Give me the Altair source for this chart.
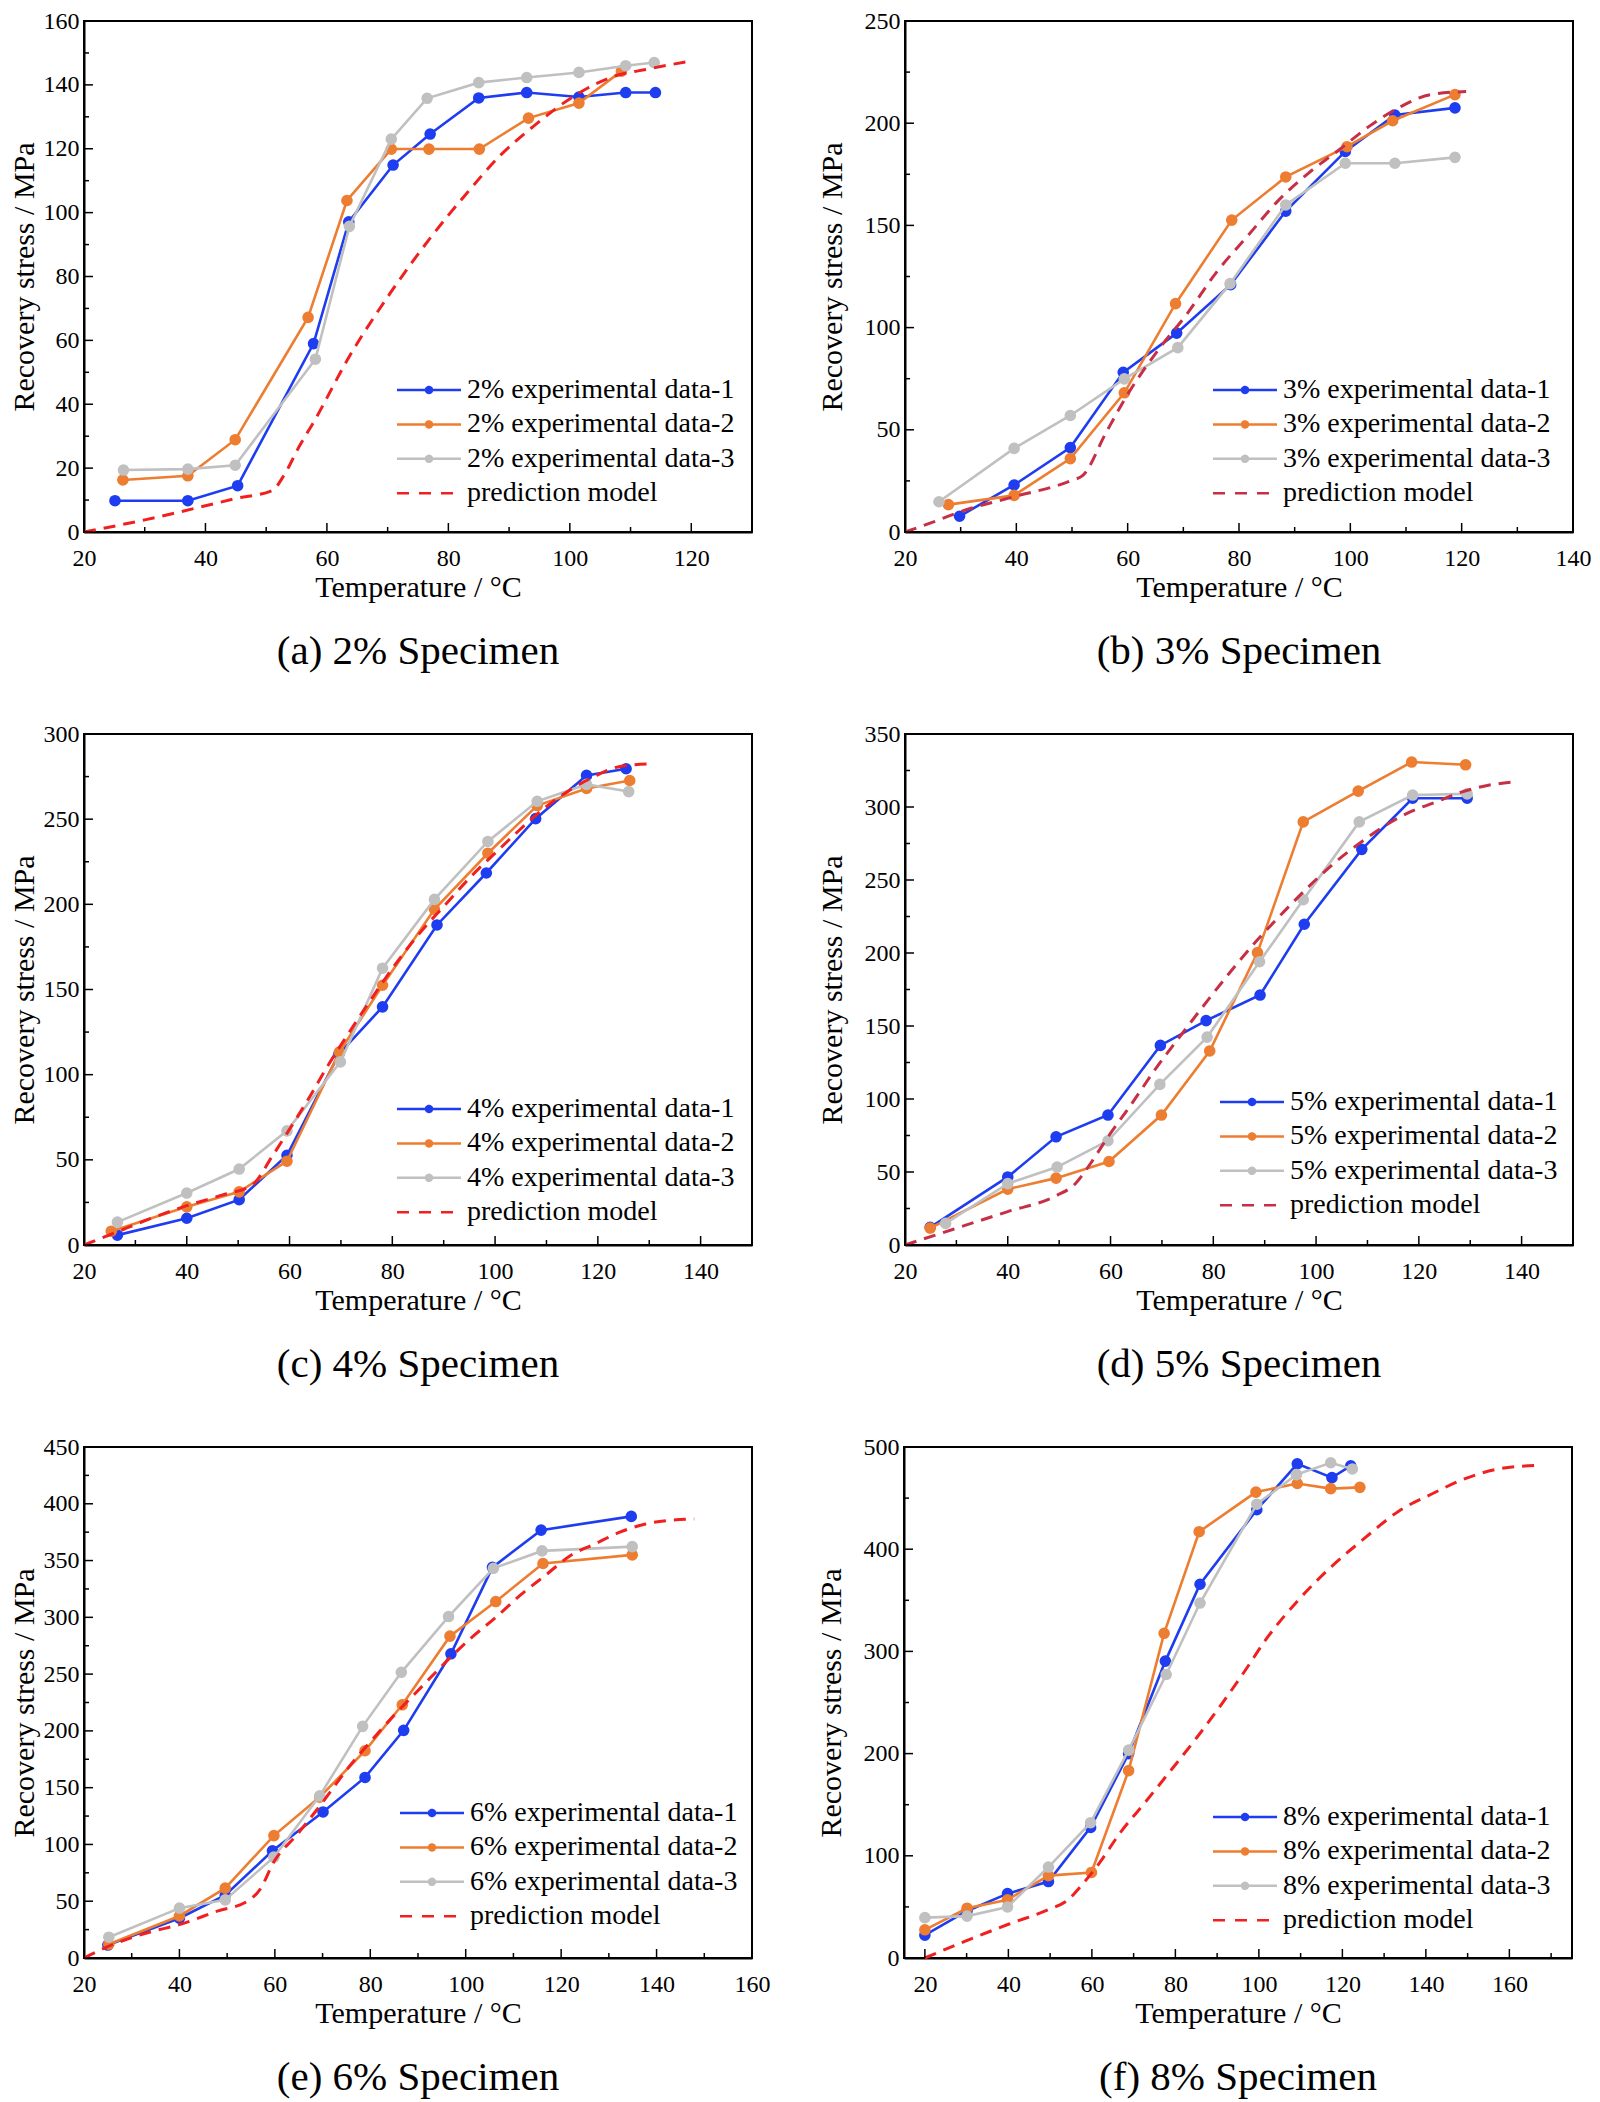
import altair as alt
import pandas as pd

FONT = "Liberation Serif, Times New Roman, serif"
BLUE = "#1e3cf0"
ORANGE = "#ed7d31"
GRAY = "#c0c0c0"
RED = "#f02020"
DARKRED = "#c62f45"

# ---------------- (a) 2% ----------------
T2_1 = [25.1, 37.1, 45.3, 57.8, 63.6, 70.9, 77.0, 85.0, 92.9, 101.5, 109.2, 114.1]
S2_1 = [9.8, 9.8, 14.5, 59.0, 97.1, 114.9, 124.6, 135.9, 137.6, 136.2, 137.6, 137.6]
T2_2 = [26.4, 37.1, 44.9, 56.9, 63.3, 70.6, 76.8, 85.1, 93.2, 101.5, 108.5]
S2_2 = [16.3, 17.6, 28.9, 67.2, 103.8, 119.9, 119.9, 119.9, 129.6, 134.3, 144.3]
T2_3 = [26.5, 37.1, 44.9, 58.1, 63.7, 70.6, 76.5, 85.0, 92.9, 101.5, 109.2, 113.9]
S2_3 = [19.4, 19.7, 20.9, 54.1, 95.7, 123.0, 135.8, 140.7, 142.3, 143.9, 146.0, 147.0]
P2_T = [20, 30, 40, 45, 51, 53, 55.5, 58, 63.4, 70.5, 77, 83, 88.6, 94, 100.7, 107, 113, 120]
P2_S = [0, 3.8, 8.2, 10.5, 13, 18, 27, 35, 54, 75, 92, 106, 118, 127, 136.5, 142.5, 145, 147.5]

# ---------------- (b) 3% ----------------
T3_1 = [29.8, 39.6, 49.7, 59.2, 68.8, 78.5, 88.4, 99.1, 108.0, 118.8]
S3_1 = [7.7, 23.0, 41.3, 78.1, 97.3, 121.0, 157.0, 186.2, 204.0, 207.5]
T3_2 = [27.8, 39.6, 49.7, 59.4, 68.6, 78.7, 88.4, 99.4, 107.6, 118.8]
S3_2 = [13.4, 17.9, 35.9, 68.1, 111.7, 152.6, 173.7, 188.5, 201.2, 214.0]
T3_3 = [26.1, 39.6, 49.7, 59.4, 69.0, 78.4, 88.4, 99.1, 108.0, 118.8]
S3_3 = [14.8, 40.9, 57.0, 74.9, 90.2, 121.5, 160.0, 180.4, 180.4, 183.3]
P3_T = [20, 25, 29.6, 39.6, 49.7, 52, 56, 59.7, 65.2, 70.6, 76.1, 81.6, 87, 92.5, 98, 103.5, 109, 114.4, 120.8]
P3_S = [0, 4.8, 9.6, 17.3, 25, 27.8, 48, 66, 88, 106.5, 127.6, 145, 162, 175.6, 187, 198.7, 208, 214, 215.5]

# ---------------- (c) 4% ----------------
T4_1 = [26.5, 40.0, 50.2, 59.5, 69.6, 78.1, 88.7, 98.3, 107.9, 117.8, 125.5]
S4_1 = [5.8, 15.7, 26.6, 52.7, 112.0, 139.8, 187.9, 218.4, 250.3, 275.7, 279.6]
T4_2 = [25.3, 40.0, 50.2, 59.5, 69.7, 78.1, 88.2, 98.6, 108.2, 117.8, 126.2]
S4_2 = [8.1, 22.4, 31.2, 49.2, 113.2, 152.5, 197.1, 230.0, 258.0, 268.0, 272.7]
T4_3 = [26.5, 40.0, 50.2, 59.5, 69.9, 78.1, 88.2, 98.6, 108.2, 117.8, 126.0]
S4_3 = [13.4, 30.5, 44.6, 67.0, 107.5, 162.5, 202.9, 236.9, 260.5, 270.4, 266.2]
P4_T = [20, 25.8, 32.5, 40, 47, 52.8, 56.6, 59.8, 63.4, 67.2, 71.1, 75.9, 80.7, 85.5, 90.4,
        95.2, 100, 104.8, 109.6, 114.5, 119.3, 124.1, 130.8]
P4_S = [0, 6.9, 15, 23.1, 29.4, 35.4, 52, 67, 84.4, 104, 122.5, 144.4, 165.2, 183.7, 200,
        216, 230, 243.8, 256.5, 267, 275, 280.8, 282.6]

# ---------------- (d) 5% ----------------
T5_1 = [24.9, 40.0, 49.4, 59.5, 69.7, 78.6, 89.1, 97.7, 108.9, 118.8, 129.4]
S5_1 = [12.1, 46.6, 74.1, 89.0, 136.7, 153.7, 171.2, 219.7, 271.0, 306.0, 306.0]
T5_2 = [24.9, 40.0, 49.4, 59.7, 69.9, 79.3, 88.6, 97.5, 108.2, 118.6, 129.1]
S5_2 = [11.6, 38.3, 45.8, 57.2, 89.0, 132.9, 200.3, 289.8, 310.9, 330.8, 328.9]
T5_3 = [27.9, 40.0, 49.6, 59.5, 69.6, 78.8, 89.0, 97.5, 108.4, 118.8, 129.4]
S5_3 = [14.8, 42.0, 53.4, 71.4, 110.0, 142.4, 194.0, 236.5, 289.8, 308.2, 309.0]
P5_T = [20, 29.4, 40, 49.4, 53.1, 56, 59.5, 63.9, 68.9, 73.8, 78.8, 83.7, 88.6, 93.6, 98.5,
        103.5, 108.4, 113.3, 118.3, 123.2, 128.1, 133.1, 139]
P5_S = [0, 10.8, 22.9, 33.7, 41.8, 55.3, 74, 95.7, 121.3, 144.2, 167, 188.7, 209, 227.8, 245.3,
        261.5, 275, 287, 296.6, 303.3, 310, 314.6, 317.3]

# ---------------- (e) 6% ----------------
T6_1 = [25.0, 40.0, 49.6, 59.5, 70.1, 78.9, 87.0, 96.9, 105.6, 115.8, 134.7]
S6_1 = [11.4, 35.0, 55.3, 94.4, 128.6, 159.0, 200.5, 267.9, 344.0, 376.8, 388.9]
T6_2 = [25.2, 40.0, 49.6, 59.8, 69.4, 78.9, 86.7, 96.7, 106.3, 116.2, 134.9]
S6_2 = [12.1, 37.0, 61.5, 107.8, 141.7, 182.5, 223.0, 283.4, 313.9, 347.4, 355.0]
T6_3 = [25.2, 40.0, 49.6, 59.8, 69.4, 78.4, 86.5, 96.4, 105.8, 116.0, 134.9]
S6_3 = [18.3, 43.9, 51.2, 88.8, 142.8, 204.0, 251.6, 300.7, 343.2, 358.5, 362.3]
P6_T = [20, 25.2, 33.5, 40, 48.1, 54.3, 56.9, 59.8, 64.7, 69.9, 75.1, 80.3, 85.5, 90.7, 95.9,
        101.1, 106.3, 111.5, 116.7, 121.9, 127.1, 132.3, 137.5, 142.7, 147.9]
P6_S = [0, 10.4, 22.5, 29.4, 41.5, 50.1, 60.5, 84.7, 108.9, 136.5, 166, 191.8, 216, 238.5, 261,
        281.7, 300, 319.7, 337, 354.3, 364.7, 375, 382, 385.4, 386.5]

# ---------------- (f) 8% ----------------
T8_1 = [20.0, 30.1, 39.8, 49.6, 59.7, 68.8, 77.6, 85.9, 99.5, 109.2, 117.5, 122.0]
S8_1 = [22.3, 46.0, 63.0, 74.8, 127.8, 200.0, 290.5, 365.7, 438.6, 483.5, 470.0, 481.6]
T8_2 = [20.0, 30.1, 39.8, 49.6, 59.9, 68.8, 77.3, 85.7, 99.3, 109.2, 117.2, 124.2]
S8_2 = [27.6, 48.7, 57.0, 80.6, 83.7, 183.4, 317.7, 417.1, 455.9, 464.3, 459.3, 460.5]
T8_3 = [20.0, 30.1, 39.8, 49.6, 59.7, 68.8, 77.8, 85.9, 99.5, 109.0, 117.2, 122.4]
S8_3 = [39.5, 41.0, 49.9, 89.0, 132.4, 203.4, 277.4, 347.3, 444.0, 473.0, 484.6, 478.5]
P8_T = [20, 30, 40, 50, 54, 57.5, 62, 66.5, 72.7, 78.8, 85, 91, 97, 101.4, 109.4, 117.4, 125.4,
        133.4, 141.4, 149.4, 157.4, 166.4]
P8_S = [0, 17, 33, 48, 56, 71, 94, 121, 152, 183, 215, 248, 283, 310, 350, 383, 411, 437, 454,
        469, 478.6, 482]

SYM_EXP = "M-8,0L8,0M-0.75,0A0.75,0.75,0,1,1,0.75,0A0.75,0.75,0,1,1,-0.75,0Z"
SYM_PRED = "M-8,0L6,0"

W, H = 668, 511


def panel(pct, xdom, xmaj, xmin, ydom, ymaj, ymin, series, pred, pcolor, caption, lx, ly, ytp):
    xscale = alt.Scale(domain=xdom, nice=False, zero=False)
    yscale = alt.Scale(domain=ydom, nice=False, zero=False)
    common = dict(ticks=False, tickSize=0, grid=False, labelFlush=False, labelOverlap=False,
                  labelFont=FONT, labelFontSize=24, labelColor="black",
                  titleFont=FONT, titleFontSize=30, titleFontWeight="normal", titleColor="black",
                  domainColor="black", domainWidth=2, format="d")
    xaxis = alt.Axis(title="Temperature / °C", values=xmaj, labelPadding=14, titlePadding=2, **common)
    yaxis = alt.Axis(title="Recovery stress / MPa", values=ymaj, labelPadding=5, titlePadding=ytp, **common)

    def X(f):
        return alt.X(f, type="quantitative", scale=xscale, axis=xaxis)

    def Y(f):
        return alt.Y(f, type="quantitative", scale=yscale, axis=yaxis)

    colors = [BLUE, ORANGE, GRAY]
    layers = []
    names = []
    for i, (ts, ss) in enumerate(series):
        name = f"{pct} experimental data-{i + 1}"
        names.append(name)
        df = pd.DataFrame({"T": ts, "S": ss})
        base = alt.Chart(df)
        layers.append(base.mark_line(color=colors[i], strokeWidth=2.6).encode(x=X("T"), y=Y("S")))
        layers.append(base.mark_circle(color=colors[i], size=135, opacity=1).encode(x=X("T"), y=Y("S")))
    names.append("prediction model")

    pdf = pd.DataFrame({"T": pred[0], "S": pred[1]})
    layers.append(alt.Chart(pdf).mark_line(color=pcolor, strokeWidth=3, strokeDash=[12, 8],
                                           interpolate="monotone").encode(x=X("T"), y=Y("S")))

    # inward ticks
    ymj = pd.DataFrame({"v": ymaj})
    ymn = pd.DataFrame({"v": ymin})
    xmj = pd.DataFrame({"v": xmaj})
    xmn = pd.DataFrame({"v": xmin})
    layers.append(alt.Chart(ymj).mark_rule(color="black", strokeWidth=1.5).encode(
        y=Y("v"), x=alt.value(0), x2=alt.value(9)))
    layers.append(alt.Chart(ymn).mark_rule(color="black", strokeWidth=1.5).encode(
        y=Y("v"), x=alt.value(0), x2=alt.value(5)))
    layers.append(alt.Chart(xmj).mark_rule(color="black", strokeWidth=1.5).encode(
        x=X("v"), y=alt.value(H), y2=alt.value(H - 9)))
    layers.append(alt.Chart(xmn).mark_rule(color="black", strokeWidth=1.5).encode(
        x=X("v"), y=alt.value(H), y2=alt.value(H - 5)))

    # legend-only layer
    leg = alt.Legend(title=None, orient="none", legendX=lx, legendY=ly, symbolSize=64,
                     symbolStrokeWidth=2.5, labelOffset=24, rowPadding=6.4, padding=0,
                     labelFont=FONT, labelFontSize=28, labelColor="black", labelLimit=600)
    lcolors = colors + [pcolor]
    ldf = pd.DataFrame({"series": names})
    layers.append(alt.Chart(ldf).transform_filter("false").mark_point(
        filled=True, size=64, strokeWidth=2.5, opacity=1).encode(
        fill=alt.Fill("series:N", scale=alt.Scale(domain=names, range=lcolors), legend=leg),
        stroke=alt.Stroke("series:N", scale=alt.Scale(domain=names, range=lcolors), legend=leg),
        shape=alt.Shape("series:N", scale=alt.Scale(domain=names, range=[SYM_EXP, SYM_EXP, SYM_EXP, SYM_PRED]), legend=leg),
        strokeDash=alt.StrokeDash("series:N", scale=alt.Scale(domain=names, range=[[1, 0], [1, 0], [1, 0], [12, 10]]), legend=leg),
    ))

    return alt.layer(*layers).properties(
        width=W, height=H,
        title=alt.TitleParams(caption, orient="bottom", offset=30, fontSize=41, font=FONT,
                              fontWeight="normal", color="black"))


def rng(a, b, s):
    out = []
    v = a
    while v <= b + 1e-9:
        out.append(v)
        v += s
    return out


pa = panel("2%", [20, 130], rng(20, 120, 20), rng(30, 130, 20), [0, 160], rng(0, 160, 20), rng(10, 150, 20),
           [(T2_1, S2_1), (T2_2, S2_2), (T2_3, S2_3)], (P2_T, P2_S), RED, "(a) 2% Specimen", 331, 355, 4)
pb = panel("3%", [20, 140], rng(20, 140, 20), rng(30, 130, 20), [0, 250], rng(0, 250, 50), rng(25, 225, 50),
           [(T3_1, S3_1), (T3_2, S3_2), (T3_3, S3_3)], (P3_T, P3_S), DARKRED, "(b) 3% Specimen", 326, 355, 17)
pc = panel("4%", [20, 150], rng(20, 140, 20), rng(30, 150, 20), [0, 300], rng(0, 300, 50), rng(25, 275, 50),
           [(T4_1, S4_1), (T4_2, S4_2), (T4_3, S4_3)], (P4_T, P4_S), RED, "(c) 4% Specimen", 331, 361, 4)
pd_ = panel("5%", [20, 150], rng(20, 140, 20), rng(30, 150, 20), [0, 350], rng(0, 350, 50), rng(25, 325, 50),
            [(T5_1, S5_1), (T5_2, S5_2), (T5_3, S5_3)], (P5_T, P5_S), DARKRED, "(d) 5% Specimen", 333, 354, 17)
pe = panel("6%", [20, 160], rng(20, 160, 20), rng(30, 150, 20), [0, 450], rng(0, 450, 50), rng(25, 425, 50),
           [(T6_1, S6_1), (T6_2, S6_2), (T6_3, S6_3)], (P6_T, P6_S), RED, "(e) 6% Specimen", 334, 352, 4)
pf = panel("8%", [15, 175], rng(20, 160, 20), rng(30, 170, 20), [0, 500], rng(0, 500, 100), rng(50, 450, 100),
           [(T8_1, S8_1), (T8_2, S8_2), (T8_3, S8_3)], (P8_T, P8_S), RED, "(f) 8% Specimen", 327, 356, 17)

IND = dict(fill="independent", stroke="independent", shape="independent", strokeDash="independent")


def row(l, r, sp):
    return alt.hconcat(l, r, spacing=sp).resolve_scale(**IND).resolve_legend(**IND)


chart = alt.vconcat(row(pa, pb, 62), row(pc, pd_, 62), row(pe, pf, 44), spacing=48).resolve_scale(
    **IND).resolve_legend(**IND)

chart = chart.configure_view(stroke="black", strokeWidth=2).configure_axis(
    domainColor="black", domainWidth=2, labelFont=FONT, labelFontSize=24, labelColor="black",
    titleFont=FONT, titleFontSize=30, titleFontWeight="normal", titleColor="black"
).configure_legend(labelFont=FONT, labelFontSize=28, labelColor="black", labelLimit=600).properties(
    background="white", padding=0)

chart.save("out.html", embed_options={"renderer": "svg", "actions": False})
